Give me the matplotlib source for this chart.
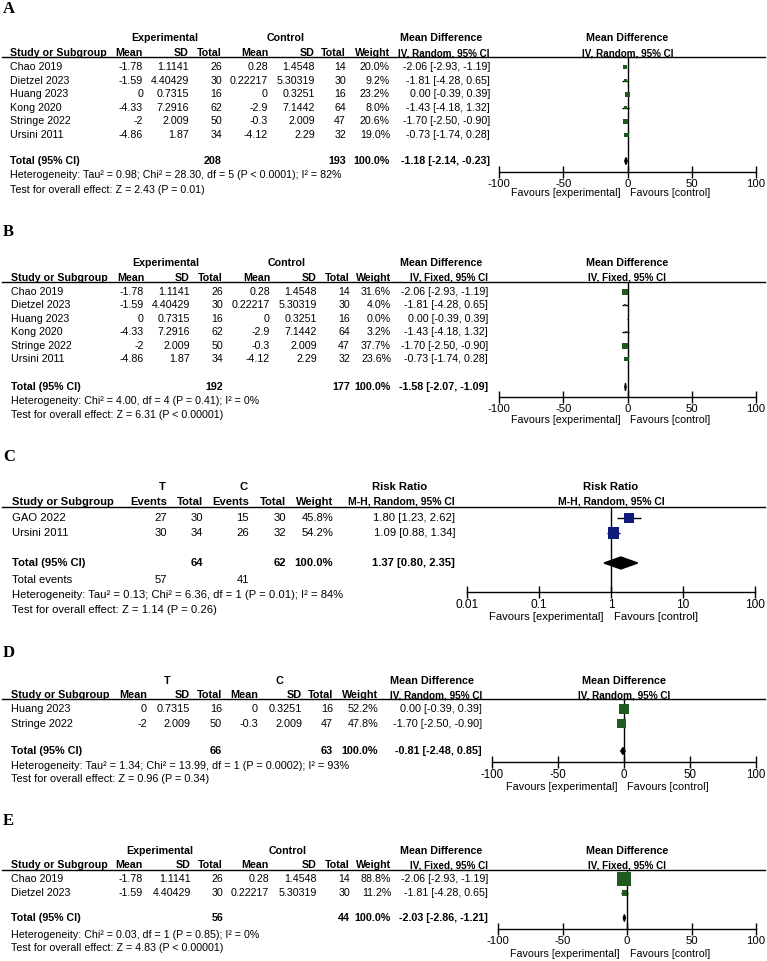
import numpy as np
import matplotlib
matplotlib.use("Agg")
import matplotlib.pyplot as plt
from matplotlib.patches import Polygon

plt.rcParams['font.family'] = ['Liberation Sans', 'DejaVu Sans']
plt.rcParams['axes.unicode_minus'] = False

W, H = 767, 961

# ---------------- data ----------------
# continuous outcome, the six trials of panels A and B
studies = ["Chao 2019", "Dietzel 2023", "Huang 2023", "Kong 2020", "Stringe 2022", "Ursini 2011"]
exp_mean = ["-1.78", "-1.59", "0", "-4.33", "-2", "-4.86"]
exp_sd = ["1.1141", "4.40429", "0.7315", "7.2916", "2.009", "1.87"]
exp_n = [26, 30, 16, 62, 50, 34]
ctl_mean = ["0.28", "0.22217", "0", "-2.9", "-0.3", "-4.12"]
ctl_sd = ["1.4548", "5.30319", "0.3251", "7.1442", "2.009", "2.29"]
ctl_n = [14, 30, 16, 64, 47, 32]
md = [-2.06, -1.81, 0.00, -1.43, -1.70, -0.73]
md_lo = [-2.93, -4.28, -0.39, -4.18, -2.50, -1.74]
md_hi = [-1.19, 0.65, 0.39, 1.32, -0.90, 0.28]

weight_a = [20.0, 9.2, 23.2, 8.0, 20.6, 19.0]
total_a = [208, 193, -1.18, -2.14, -0.23]
het_a = "Heterogeneity: Tau\u00b2 = 0.98; Chi\u00b2 = 28.30, df = 5 (P < 0.0001); I\u00b2 = 82%"
test_a = "Test for overall effect: Z = 2.43 (P = 0.01)"

weight_b = [31.6, 4.0, 0.0, 3.2, 37.7, 23.6]
total_b = [192, 177, -1.58, -2.07, -1.09]
het_b = "Heterogeneity: Chi\u00b2 = 4.00, df = 4 (P = 0.41); I\u00b2 = 0%"
test_b = "Test for overall effect: Z = 6.31 (P < 0.00001)"

# panel C: dichotomous outcome
c_studies = ["GAO 2022", "Ursini 2011"]
c_t_events = [27, 30]
c_t_total = [30, 34]
c_c_events = [15, 26]
c_c_total = [30, 32]
c_weight = [45.8, 54.2]
rr = [1.80, 1.09]
rr_lo = [1.23, 0.88]
rr_hi = [2.62, 1.34]
total_c = [64, 62, 1.37, 0.80, 2.35]
events_c = [57, 41]
het_c = "Heterogeneity: Tau\u00b2 = 0.13; Chi\u00b2 = 6.36, df = 1 (P = 0.01); I\u00b2 = 84%"
test_c = "Test for overall effect: Z = 1.14 (P = 0.26)"

# panel D: Huang 2023 and Stringe 2022
d_idx = [2, 4]
weight_d = [52.2, 47.8]
total_d = [66, 63, -0.81, -2.48, 0.85]
het_d = "Heterogeneity: Tau\u00b2 = 1.34; Chi\u00b2 = 13.99, df = 1 (P = 0.0002); I\u00b2 = 93%"
test_d = "Test for overall effect: Z = 0.96 (P = 0.34)"

# panel E: Chao 2019 and Dietzel 2023
e_idx = [0, 1]
weight_e = [88.8, 11.2]
total_e = [56, 44, -2.03, -2.86, -1.21]
het_e = "Heterogeneity: Chi\u00b2 = 0.03, df = 1 (P = 0.85); I\u00b2 = 0%"
test_e = "Test for overall effect: Z = 4.83 (P < 0.00001)"

md_ticks = [-100, -50, 0, 50, 100]
md_ticklabels = ["-100", "-50", "0", "50", "100"]
rr_ticks = [0.01, 0.1, 1, 10, 100]
rr_ticklabels = ["0.01", "0.1", "1", "10", "100"]

GREEN = '#1f5a1f'
NAVY = '#0f1a7a'

fig = plt.figure(figsize=(W / 100, H / 100), dpi=100)
bg = fig.add_axes([0, 0, 1, 1])
bg.set_xlim(0, W)
bg.set_ylim(H, 0)
bg.axis('off')


def put(x, y, s, fs, ha='left', bold=False):
    bg.text(x, y, s, fontsize=fs, ha=ha, va='center',
            fontweight='bold' if bold else 'normal')


def ci_str(e, l, h):
    return f"{e:.2f} [{l:.2f}, {h:.2f}]"


def draw_panel(p):
    fs = p['fs']
    y = p['y']
    bg.text(3, y['letter'], p['letter'], family='Liberation Serif', fontweight='bold',
            fontsize=12, ha='left', va='center')
    for txt, xc in p['groups']:
        put(xc, y['h1'], txt, fs, 'center', True)
    put(p['x_study'], y['h2'], "Study or Subgroup", fs, 'left', True)
    for h, xr in zip(p['heads'], p['col_x']):
        put(xr, y['h2'], h, fs, 'right', True)
    put(p['eff_c'], y['h1'], p['eff_name'], fs, 'center', True)
    put(p['eff_r'], y['h2'], p['method'], fs * 0.92, 'right', True)
    bg.plot([2, 765], [y['line'], y['line']], color='k', lw=1)

    xs_all = p['col_x'] + [p['eff_r']]
    for i, (name, cells) in enumerate(zip(p['names'], p['cells'])):
        yy = y['row0'] + i * y['step']
        put(p['x_study'], yy, name, fs)
        for v, xr in zip(cells, xs_all):
            put(xr, yy, v, fs, 'right')
    put(p['x_study'], y['total'], "Total (95% CI)", fs, 'left', True)
    for v, xr in zip(p['total_cells'], xs_all):
        if v:
            put(xr, y['total'], v, fs, 'right', True)
    if 'events' in p:
        put(p['x_study'], y['events'], "Total events", fs)
        for v, xr in p['events']:
            put(xr, y['events'], v, fs, 'right')
    put(p['x_study'], y['het'], p['het'], fs)
    put(p['x_study'], y['test'], p['test'], fs)

    # forest plot
    f = p['forest']
    x0, x1 = f['px']
    ax = fig.add_axes([x0 / W, 1 - y['axis'] / H, (x1 - x0) / W, (y['axis'] - y['line']) / H])
    ax.set_facecolor('none')
    if f['log']:
        ax.set_xscale('log')
    ax.set_xlim(f['ticks'][0], f['ticks'][-1])
    ax.set_ylim(y['axis'], y['line'])
    for s in ['top', 'left', 'right']:
        ax.spines[s].set_visible(False)
    ax.spines['bottom'].set_linewidth(1)
    ax.set_yticks([])
    ax.set_xticks(f['ticks'])
    ax.set_xticklabels(f['labels'])
    ax.minorticks_off()
    ax.tick_params(axis='x', direction='inout', length=8, width=1, labelsize=fs + 0.5, pad=1)
    ax.axvline(f['null'], color='k', lw=1)

    est = np.array(f['est'])
    lo = np.array(f['lo'])
    hi = np.array(f['hi'])
    ys = y['row0'] + y['step'] * np.arange(len(est))
    ax.errorbar(est, ys, xerr=[est - lo, hi - est], fmt='none', ecolor='k',
                elinewidth=1, capsize=0, zorder=2)
    side = f['k'] * np.sqrt(np.array(f['w']))
    ax.scatter(est, ys, marker='s', s=(side * 0.72) ** 2, c=f['color'], linewidths=0, zorder=3)
    te, tl, th = f['total']
    hd = f['dh']
    ax.add_patch(Polygon([(tl, y['total']), (te, y['total'] - hd), (th, y['total']),
                          (te, y['total'] + hd)], closed=True, color='k', zorder=4))

    xc = ax.transData.transform((f['null'], 0))[0]
    put(xc, y['h1'], p['eff_name'], fs, 'center', True)
    put(xc, y['h2'], p['method'], fs * 0.92, 'center', True)
    put(xc - 7, y['fav'], "Favours [experimental]", fs, 'right')
    put(xc + 3, y['fav'], "Favours [control]", fs, 'left')


def md_cells(idx, weights):
    out = []
    for j, w in zip(idx, weights):
        out.append([exp_mean[j], exp_sd[j], str(exp_n[j]), ctl_mean[j], ctl_sd[j],
                    str(ctl_n[j]), f"{w:.1f}%", ci_str(md[j], md_lo[j], md_hi[j])])
    return out


def md_total(t):
    return ["", "", str(t[0]), "", "", str(t[1]), "100.0%", ci_str(t[2], t[3], t[4])]


md_heads = ["Mean", "SD", "Total", "Mean", "SD", "Total", "Weight"]
all_idx = list(range(len(studies)))


def md_forest(px, idx, weights, tot, k):
    return dict(px=px, log=False, ticks=md_ticks, labels=md_ticklabels, null=0,
                est=[md[j] for j in idx], lo=[md_lo[j] for j in idx], hi=[md_hi[j] for j in idx],
                w=weights, k=k, color=GREEN, total=tot[2:], dh=3.5)


panels = [
    dict(letter="A", fs=7.7, x_study=10,
         y=dict(letter=9, h1=38, h2=53, line=57, row0=67, step=13.6, total=161,
                het=175, test=190, axis=172, fav=193),
         groups=[("Experimental", 165), ("Control", 286)],
         heads=md_heads, col_x=[143, 189, 222, 268, 315, 346, 390], eff_r=490, eff_c=441,
         eff_name="Mean Difference", method="IV, Random, 95% CI",
         names=studies, cells=md_cells(all_idx, weight_a), total_cells=md_total(total_a),
         het=het_a, test=test_a,
         forest=md_forest((499, 756), all_idx, weight_a, total_a, 1.0)),
    dict(letter="B", fs=7.7, x_study=11,
         y=dict(letter=232, h1=263, h2=278, line=282, row0=292, step=13.4, total=387,
                het=401, test=415, axis=397, fav=420),
         groups=[("Experimental", 166), ("Control", 287)],
         heads=md_heads, col_x=[144, 190, 223, 270, 317, 350, 391], eff_r=488, eff_c=441,
         eff_name="Mean Difference", method="IV, Fixed, 95% CI",
         names=studies, cells=md_cells(all_idx, weight_b), total_cells=md_total(total_b),
         het=het_b, test=test_b,
         forest=md_forest((499, 756), all_idx, weight_b, total_b, 1.0)),
    dict(letter="C", fs=8.1, x_study=12,
         y=dict(letter=457, h1=487, h2=502, line=507, row0=518, step=15, total=563,
                events=580, het=595, test=610, axis=592, fav=617),
         groups=[("T", 162), ("C", 244)],
         heads=["Events", "Total", "Events", "Total", "Weight"],
         col_x=[167, 203, 249, 286, 333], eff_r=455, eff_c=400,
         eff_name="Risk Ratio", method="M-H, Random, 95% CI",
         names=c_studies,
         cells=[[str(a), str(b), str(c), str(d), f"{w:.1f}%", ci_str(e, l, h)]
                for a, b, c, d, w, e, l, h in zip(c_t_events, c_t_total, c_c_events, c_c_total,
                                                  c_weight, rr, rr_lo, rr_hi)],
         total_cells=["", str(total_c[0]), "", str(total_c[1]), "100.0%",
                      ci_str(total_c[2], total_c[3], total_c[4])],
         events=[(str(events_c[0]), 167), (str(events_c[1]), 249)],
         het=het_c, test=test_c,
         forest=dict(px=(467, 755), log=True, ticks=rr_ticks, labels=rr_ticklabels, null=1,
                     est=rr, lo=rr_lo, hi=rr_hi, w=c_weight, k=1.5, color=NAVY,
                     total=total_c[2:], dh=6)),
    dict(letter="D", fs=7.8, x_study=11,
         y=dict(letter=653, h1=681, h2=695, line=699, row0=709, step=14.7, total=751,
                het=766, test=779, axis=762, fav=787),
         groups=[("T", 167), ("C", 279)],
         heads=md_heads, col_x=[147, 190, 222, 258, 302, 333, 378], eff_r=482, eff_c=432,
         eff_name="Mean Difference", method="IV, Random, 95% CI",
         names=[studies[j] for j in d_idx], cells=md_cells(d_idx, weight_d),
         total_cells=md_total(total_d), het=het_d, test=test_d,
         forest=md_forest((492, 756), d_idx, weight_d, total_d, 1.25)),
    dict(letter="E", fs=7.7, x_study=11,
         y=dict(letter=821, h1=851, h2=865, line=870, row0=879, step=14, total=918,
                het=935, test=948, axis=929, fav=954),
         groups=[("Experimental", 160), ("Control", 288)],
         heads=md_heads, col_x=[143, 191, 223, 269, 317, 350, 391], eff_r=488, eff_c=441,
         eff_name="Mean Difference", method="IV, Fixed, 95% CI",
         names=[studies[j] for j in e_idx], cells=md_cells(e_idx, weight_e),
         total_cells=md_total(total_e), het=het_e, test=test_e,
         forest=md_forest((498, 756), e_idx, weight_e, total_e, 1.5)),
]

for p in panels:
    draw_panel(p)

fig.savefig("out.png", dpi=100)
